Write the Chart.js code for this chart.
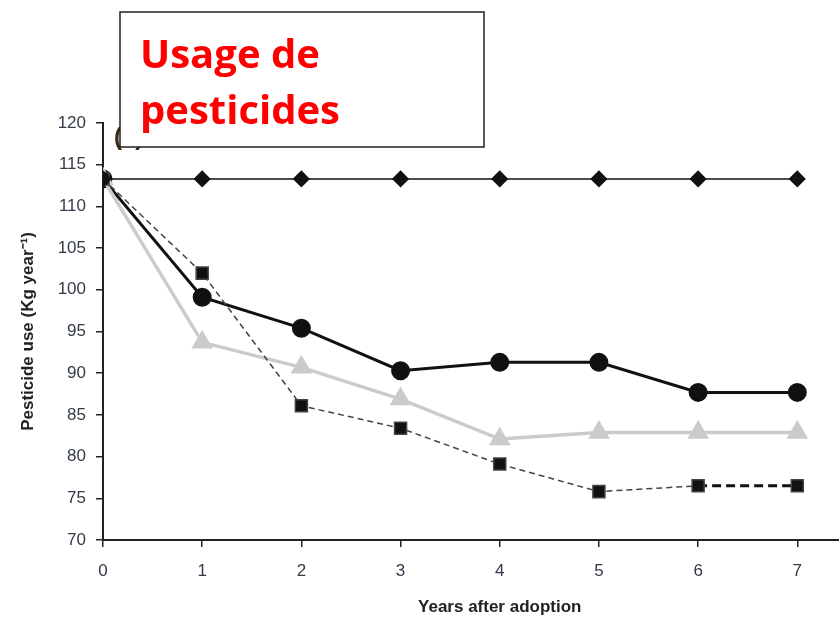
<!DOCTYPE html>
<html>
<head>
<meta charset="utf-8">
<script src="https://cdn.jsdelivr.net/npm/chart.js@4"></script>
<style>
  html, body { margin: 0; padding: 0; background: #fff; overflow: hidden; }
  #wrap { width: 839px; height: 618px; overflow: hidden; }
  canvas { display: block; }
</style>
</head>
<body>
<div id="wrap"><canvas id="chart" width="909" height="618"></canvas></div>
<script>
// the figure is cropped: the x axis runs on to 8, past the right edge
let years = [0, 1, 2, 3, 4, 5, 6, 7];
let yTicks = [70, 75, 80, 85, 90, 95, 100, 105, 110, 115, 120];

let conventional = [113.3, 113.3, 113.3, 113.3, 113.3, 113.3, 113.3, 113.3];
let circles = [113.3, 99.1, 95.4, 90.3, 91.3, 91.3, 87.7, 87.7];
let triangles = [113.3, 93.7, 90.7, 86.9, 82.1, 82.9, 82.9, 82.9];
let squares = [113.3, 102.0, 86.1, 83.4, 79.1, 75.8, 76.5, 76.5];

function pts(vals) {
  let out = [];
  for (let i = 0; i < years.length; i++) {
    out.push({ x: years[i], y: vals[i] });
  }
  return out;
}

let titleBox = {
  id: "titleBox",
  beforeDatasetsDraw(chart) {
    let ctx = chart.ctx;
    ctx.save();
    ctx.fillStyle = "#3a2a10";
    ctx.font = "bold 24px 'Liberation Sans', Arial, sans-serif";
    ctx.textBaseline = "middle";
    ctx.fillText("(a)", 114, 138);
    ctx.restore();
  },
  afterDraw(chart) {
    let ctx = chart.ctx;
    ctx.save();
    ctx.fillStyle = "#fff";
    ctx.fillRect(120, 12, 364, 135);
    ctx.strokeStyle = "#222";
    ctx.lineWidth = 1.5;
    ctx.strokeRect(120, 12, 364, 135);
    ctx.fillStyle = "#ff0000";
    ctx.font = "bold 40px 'Open Sans', 'Liberation Sans', sans-serif";
    ctx.textBaseline = "alphabetic";
    ctx.fillText("Usage de", 140, 68);
    ctx.fillText("pesticides", 140, 124);
    ctx.restore();
  }
};

let tickFont = { family: "'Liberation Sans', Arial, sans-serif", size: 17 };
let titleFont = { family: "'Liberation Sans', Arial, sans-serif", size: 17, weight: "bold", lineHeight: 1 };

let ctx = document.getElementById("chart").getContext("2d");

new Chart(ctx, {
  type: "line",
  data: {
    datasets: [
      {
        label: "Conventional",
        data: pts(conventional),
        borderColor: "#111",
        backgroundColor: "#111",
        borderWidth: 1.5,
        pointStyle: "rectRot",
        pointRadius: 7.5,
        tension: 0
      },
      {
        label: "Squares",
        data: pts(squares),
        borderColor: "#444",
        backgroundColor: "#111",
        borderWidth: 1.5,
        borderDash: [6, 4],
        pointStyle: "rect",
        pointRadius: 8.5,
        tension: 0,
        segment: {
          borderColor: function (c) { return c.p0DataIndex === 6 ? "#111" : "#444"; },
          borderWidth: function (c) { return c.p0DataIndex === 6 ? 3 : 1.5; },
          borderDash: function (c) { return c.p0DataIndex === 6 ? [9, 5] : [6, 4]; }
        }
      },
      {
        label: "Triangles",
        data: pts(triangles),
        borderColor: "#cbcbcb",
        backgroundColor: "#cbcbcb",
        borderWidth: 3.5,
        pointStyle: "triangle",
        pointRadius: 9,
        tension: 0
      },
      {
        label: "Circles",
        data: pts(circles),
        borderColor: "#111",
        backgroundColor: "#111",
        borderWidth: 3,
        pointStyle: "circle",
        pointRadius: 8,
        tension: 0
      }
    ]
  },
  options: {
    responsive: false,
    animation: false,
    layout: { padding: { top: 123, right: 0, left: 0, bottom: 0 } },
    plugins: {
      legend: { display: false },
      tooltip: { enabled: false }
    },
    scales: {
      x: {
        type: "linear",
        min: 0,
        max: 8,
        afterBuildTicks: function (scale) {
          scale.ticks = years.map(function (v) { return { value: v }; });
        },
        afterFit: function (scale) {
          scale.height = 78;
          scale.paddingLeft = 0;
          scale.paddingRight = 0;
        },
        grid: { drawOnChartArea: false, drawTicks: true, tickLength: 7, color: "#222", lineWidth: 1.5 },
        border: { display: true, color: "#222", width: 2 },
        ticks: { color: "#333a48", padding: 14, font: tickFont },
        title: {
          display: true,
          text: "Years after adoption",
          color: "#222",
          padding: { top: 0, bottom: 2 },
          font: titleFont
        }
      },
      y: {
        min: 70,
        max: 120,
        afterBuildTicks: function (scale) {
          scale.ticks = yTicks.map(function (v) { return { value: v }; });
        },
        afterFit: function (scale) {
          scale.width = 103;
          scale.paddingTop = 0;
          scale.paddingBottom = 0;
        },
        grid: { drawOnChartArea: false, drawTicks: true, tickLength: 7, color: "#222", lineWidth: 1.5 },
        border: { display: true, color: "#222", width: 2 },
        ticks: { color: "#333a48", padding: 10, font: tickFont },
        title: {
          display: true,
          text: "Pesticide use (Kg year\u207B\u00B9)",
          color: "#222",
          padding: { top: 20, bottom: 0 },
          font: titleFont
        }
      }
    }
  },
  plugins: [titleBox]
});
</script>
</body>
</html>
